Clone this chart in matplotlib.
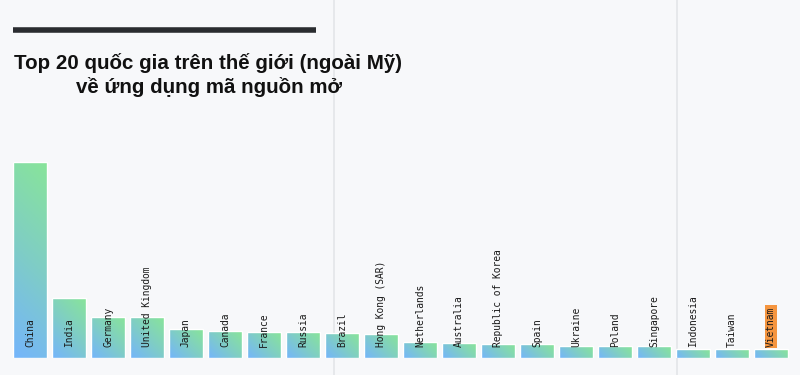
import numpy as np
import matplotlib
matplotlib.use("Agg")
import matplotlib.pyplot as plt
from matplotlib.lines import Line2D
from matplotlib.colors import LinearSegmentedColormap

countries = ["China", "India", "Germany", "United Kingdom", "Japan", "Canada",
             "France", "Russia", "Brazil", "Hong Kong (SAR)", "Netherlands",
             "Australia", "Republic of Korea", "Spain", "Ukraine", "Poland",
             "Singapore", "Indonesia", "Taiwan", "Vietnam"]
values = [196, 60, 41, 41, 29, 27, 26, 26, 25, 24, 16, 15, 14.5, 14, 12.5,
          12, 12, 9, 9, 9]
highlight = "Vietnam"
title = "Top 20 quốc gia trên thế giới (ngoài Mỹ)\nvề ứng dụng mã nguồn mở"

BG = "#f7f8fa"
W, H = 800, 375
fig = plt.figure(figsize=(W / 100, H / 100), dpi=100, facecolor=BG)

# faint page column lines
for xp in (334, 677):
    fig.add_artist(Line2D([xp / W, xp / W], [0, 1], color="#e3e5e9", lw=1.2,
                          transform=fig.transFigure, zorder=0))

ax = fig.add_axes([10.5 / W, 17 / H, 780 / W, 358 / H])
ax.set_facecolor("none")
ax.axis("off")

x = np.arange(len(countries))
bars = ax.bar(x, values, width=0.87, color="none", edgecolor="white", lw=1.0, zorder=3)

cmap = LinearSegmentedColormap.from_list("g", ["#74b5fb", "#7fcdc6", "#88e49a"])
n = 64
u = np.linspace(0, 1, n)
U, V = np.meshgrid(u, u)
for b in bars:
    bx, by = b.get_x(), b.get_y()
    bw, bh = b.get_width(), b.get_height()
    pw = bw * 39
    ph = bh
    grad = (U * pw + V * ph) / (pw + ph)
    im = ax.imshow(grad, cmap=cmap, origin="lower", aspect="auto",
                   extent=[bx, bx + bw, by, by + bh], zorder=2, vmin=0, vmax=1)
    im.set_clip_path(b)

ax.set_xlim(-0.5, len(countries) - 0.5)
ax.set_ylim(0, 358)

for xi, name in zip(x, countries):
    kw = {}
    if name == highlight:
        kw["bbox"] = dict(boxstyle="square,pad=0.15", fc="#f5953f", ec="none")
    ax.text(xi, 11, name, rotation=90, ha="center", va="bottom",
            family="DejaVu Sans Mono", fontsize=6.9, color="#1a1a1a",
            zorder=5, **kw)

# title decoration bar
fig.add_artist(Line2D([13 / W, 316 / W], [1 - 29.5 / H, 1 - 29.5 / H],
                      color="#2a2c30", lw=4.0, solid_capstyle="butt",
                      transform=fig.transFigure))
fig.text(208.5 / W, 1 - 75.5 / H, title, ha="center", va="center",
         family="Liberation Sans", fontweight="bold", fontsize=14.8,
         color="#111111", linespacing=1.25)

fig.savefig("out.png", dpi=100, facecolor=BG)
